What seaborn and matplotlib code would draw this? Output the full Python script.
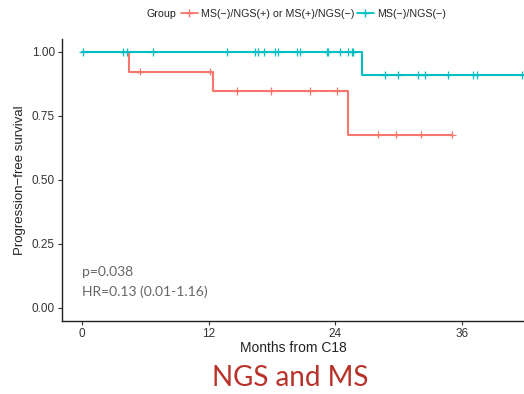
import numpy as np
import pandas as pd
import matplotlib
matplotlib.use("Agg")
import matplotlib.pyplot as plt
import seaborn as sns
from matplotlib.lines import Line2D

sns.set_theme(style="ticks")
plt.rcParams['font.family'] = ['Liberation Sans', 'DejaVu Sans']

# ---- data ----
groups = ["MS(\u2212)/NGS(+) or MS(+)/NGS(\u2212)", "MS(\u2212)/NGS(\u2212)"]
colors = ["#F8766D", "#00BFC4"]

# step curves (time, survival) for each group
red_times = [0, 4.5, 12.4, 25.2, 35.1]
red_surv = [1.0, 0.923, 0.846, 0.677, 0.677]
blue_times = [0, 26.5, 41.9]
blue_surv = [1.0, 0.91, 0.91]

# censor times
red_censor = [5.5, 12.1, 14.7, 17.9, 21.6, 24.2, 28.1, 29.8, 32.1, 35.1]
blue_censor = [0.1, 3.9, 4.3, 6.7, 13.8, 16.4, 16.7, 17.3, 18.3, 18.6, 20.4, 20.7,
               23.2, 23.3, 24.5, 25.2, 25.6, 25.7, 28.7, 30.0, 31.9, 32.5, 34.7,
               37.1, 37.4, 41.7]

x_ticks = [0, 12, 24, 36]
y_ticks = [0.0, 0.25, 0.5, 0.75, 1.0]
y_tick_labels = ["0.00", "0.25", "0.50", "0.75", "1.00"]

def step_value(times, surv, t):
    idx = np.searchsorted(times, t, side="right") - 1
    return np.asarray(surv)[idx]

curves = pd.concat([
    pd.DataFrame({"time": red_times, "surv": red_surv, "group": groups[0]}),
    pd.DataFrame({"time": blue_times, "surv": blue_surv, "group": groups[1]}),
])
cens = pd.concat([
    pd.DataFrame({"time": red_censor, "surv": step_value(red_times, red_surv, red_censor), "group": groups[0]}),
    pd.DataFrame({"time": blue_censor, "surv": step_value(blue_times, blue_surv, blue_censor), "group": groups[1]}),
])

fig = plt.figure(figsize=(5.24, 3.94), dpi=100)
ax = fig.add_axes([0.118, 0.186, 0.882, 0.715])

palette = dict(zip(groups, colors))
for g in groups:
    sub = curves[curves.group == g]
    sns.lineplot(data=sub, x="time", y="surv", color=palette[g], drawstyle="steps-post",
                 linewidth=1.5, ax=ax, legend=False, estimator=None)
sns.scatterplot(data=cens, x="time", y="surv", hue="group", palette=palette, marker="+",
                s=30, linewidth=0.9, ax=ax, legend=False)

ax.set_xlim(-1.9, 41.9)
ax.set_ylim(-0.05, 1.05)
ax.set_xticks(x_ticks)
ax.set_yticks(y_ticks)
ax.set_yticklabels(y_tick_labels)
ax.tick_params(labelsize=8.5, colors="#333333", length=3, width=0.8, pad=2)
for s in ["top", "right"]:
    ax.spines[s].set_visible(False)
for s in ["left", "bottom"]:
    ax.spines[s].set_color("#222222")
    ax.spines[s].set_linewidth(1.0)
ax.set_xlabel("Months from C18", fontsize=10, color="#222222", labelpad=1)
ax.set_ylabel("Progression\u2212free survival", fontsize=9.5, color="#222222", labelpad=4)

ax.text(0.0, 0.14, "p=0.038", fontsize=10, color="#666666", family="Lato", va="center")
ax.text(0.0, 0.065, "HR=0.13 (0.01-1.16)", fontsize=10, color="#666666", family="Lato", va="center")

# legend
fig.text(0.279, 0.965, "Group", fontsize=7.7, color="#222222", va="center", ha="left")
handles = [Line2D([0], [0], color=c, marker="+", markersize=6, lw=1.3) for c in colors]
fig.legend(handles, groups, loc="center left", bbox_to_anchor=(0.345, 0.965), ncol=2,
           frameon=False, fontsize=7.7, handlelength=1.6, handletextpad=0.3, columnspacing=0.2,
           borderaxespad=0, borderpad=0)

fig.text(0.553, 0.04, "NGS and MS", fontsize=20, color="#B8322A", family="Lato",
         ha="center", va="center")

fig.savefig("out.png", dpi=100)
